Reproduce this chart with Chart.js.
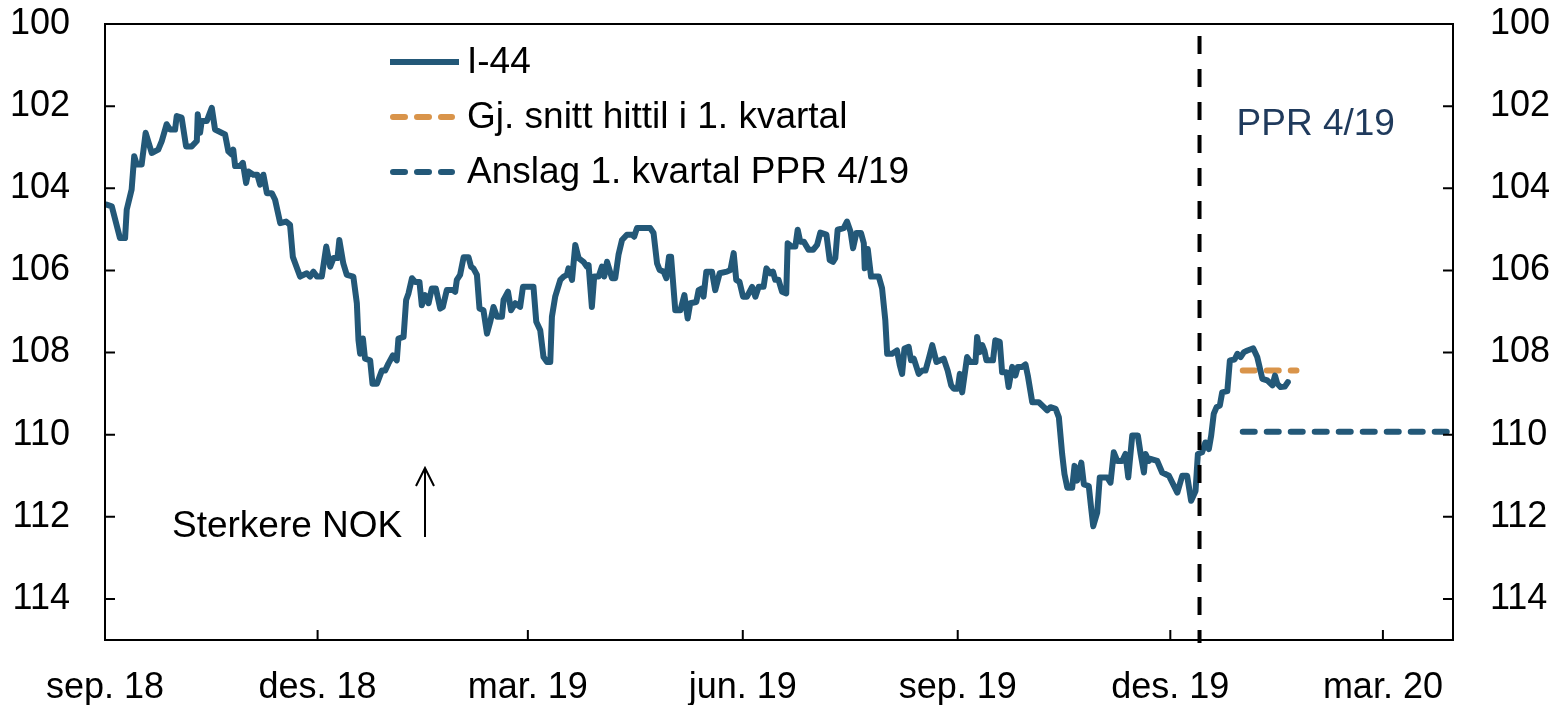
<!DOCTYPE html>
<html><head><meta charset="utf-8">
<script src="https://cdn.jsdelivr.net/npm/chart.js@4"></script>
<style>html,body{margin:0;padding:0;background:#fff;}#wrap{width:1559px;height:705px;position:relative;}</style>
</head><body><div id="wrap"><canvas id="c" width="1559" height="705"></canvas></div>
<script>
// x values are days since 1 Sep 2018
const xTickDays = [0, 91, 181, 273, 365, 456, 547];
const xTickLabels = ['sep. 18', 'des. 18', 'mar. 19', 'jun. 19', 'sep. 19', 'des. 19', 'mar. 20'];
const yTicks = [100, 102, 104, 106, 108, 110, 112, 114];
const seriesNames = ['I-44', 'Gj. snitt hittil i 1. kvartal', 'Anslag 1. kvartal PPR 4/19'];
const i44 = [[0.7,104.40],[2.9,104.44],[6.4,105.21],[8.6,105.21],[9.3,104.52],[11.4,104.03],[12.5,103.22],[13.6,103.42],[15.7,103.42],[17.4,102.65],[20.0,103.14],[22.8,103.06],[24.3,102.85],[26.4,102.44],[27.8,102.57],[30.0,102.57],[30.7,102.24],[32.8,102.28],[34.7,102.98],[37.1,102.98],[39.3,102.85],[39.7,102.20],[40.7,102.65],[41.4,102.36],[43.6,102.36],[45.7,102.04],[47.1,102.57],[51.4,102.69],[52.8,103.10],[54.3,103.18],[54.9,103.06],[55.7,103.46],[57.8,103.46],[59.0,103.38],[60.4,103.87],[61.4,103.59],[63.5,103.67],[65.2,103.67],[66.4,103.91],[67.8,103.67],[69.3,104.12],[71.4,104.12],[72.8,104.28],[75.0,104.85],[77.5,104.81],[79.2,104.89],[80.4,105.67],[83.5,106.15],[86.4,106.07],[87.8,106.15],[89.2,106.03],[90.7,106.15],[92.8,106.15],[94.7,105.42],[96.4,105.91],[97.8,105.70],[99.5,105.70],[100.3,105.26],[102.0,105.83],[103.5,106.11],[106.3,106.15],[107.8,106.80],[108.5,107.70],[109.2,108.03],[110.4,107.66],[111.3,108.15],[113.5,108.19],[114.5,108.76],[116.4,108.76],[118.5,108.44],[119.9,108.44],[121.3,108.27],[123.2,108.07],[124.9,108.19],[125.6,107.66],[127.8,107.62],[128.9,106.72],[129.9,106.56],[131.4,106.19],[132.8,106.28],[134.6,106.28],[135.6,106.85],[137.0,106.60],[138.5,106.80],[139.9,106.44],[141.6,106.44],[143.5,106.93],[144.6,106.89],[146.3,106.48],[148.9,106.48],[149.9,106.52],[150.6,106.23],[152.0,106.11],[153.5,105.68],[155.6,105.68],[156.7,105.91],[157.7,105.95],[159.2,106.11],[160.3,106.93],[162.0,106.97],[163.5,107.54],[164.9,107.25],[166.3,106.89],[167.8,107.13],[169.9,107.13],[170.6,106.72],[172.5,106.52],[173.8,106.97],[175.6,106.80],[177.7,106.89],[178.9,106.40],[181.3,106.40],[183.4,106.40],[184.6,107.25],[186.3,107.46],[187.7,108.11],[189.2,108.23],[190.6,108.23],[191.3,107.13],[192.7,106.64],[194.9,106.23],[196.3,106.15],[197.7,106.11],[198.4,105.95],[199.9,106.23],[201.3,105.38],[202.7,105.70],[204.8,105.79],[206.3,105.91],[207.0,105.87],[208.4,106.89],[209.4,106.15],[211.3,106.15],[212.7,105.91],[213.7,106.15],[214.9,105.79],[217.0,106.19],[218.4,106.19],[219.8,105.62],[221.3,105.26],[223.4,105.13],[225.6,105.13],[226.5,105.18],[227.7,104.97],[233.4,104.97],[234.8,105.09],[236.3,105.83],[237.4,105.99],[239.1,106.03],[240.3,106.19],[241.4,105.67],[242.3,105.67],[244.1,106.97],[246.3,106.97],[248.0,106.60],[249.4,107.17],[250.5,106.80],[253.1,106.77],[254.1,106.48],[255.5,106.44],[256.2,106.64],[257.4,106.03],[259.8,106.03],[261.2,106.48],[263.1,106.07],[266.2,106.03],[267.7,105.99],[269.1,105.58],[270.2,106.23],[271.6,106.28],[273.1,106.64],[274.8,106.64],[277.0,106.40],[278.4,106.64],[279.8,106.40],[281.9,106.40],[283.1,105.95],[284.8,106.07],[285.9,106.03],[286.9,106.23],[288.3,106.23],[289.8,106.52],[291.6,106.56],[292.2,105.34],[294.0,105.42],[295.5,105.42],[296.5,105.01],[297.6,105.30],[299.1,105.30],[301.2,105.50],[303.1,105.50],[304.8,105.38],[306.2,105.08],[308.8,105.13],[310.2,105.75],[311.6,105.79],[312.6,105.70],[313.6,105.01],[316.2,104.97],[317.6,104.81],[319.1,105.05],[320.2,105.46],[321.6,105.09],[323.6,105.09],[324.8,105.34],[325.2,105.95],[326.5,105.48],[327.9,106.15],[331.2,106.15],[332.6,106.43],[334.0,107.21],[334.8,108.03],[336.9,108.03],[339.0,107.95],[340.2,108.31],[341.2,108.52],[342.2,107.90],[344.0,107.86],[345.0,108.19],[346.2,108.15],[348.3,108.52],[349.8,108.44],[351.2,108.44],[352.6,108.15],[354.1,107.82],[355.9,108.23],[359.0,108.15],[360.7,108.44],[362.2,108.80],[363.3,108.88],[365.0,108.88],[365.9,108.52],[366.9,108.97],[369.0,108.11],[370.4,108.23],[372.6,108.23],[373.3,107.62],[374.4,107.99],[375.5,107.82],[376.4,107.95],[377.3,108.19],[380.1,108.19],[381.1,107.70],[383.0,107.74],[384.0,108.48],[385.9,108.48],[386.8,108.84],[388.3,108.35],[389.7,108.56],[390.7,108.35],[392.6,108.35],[394.0,108.29],[395.0,108.56],[396.9,109.21],[399.7,109.21],[401.9,109.33],[403.3,109.41],[404.7,109.33],[406.9,109.37],[408.3,109.58],[409.7,110.47],[410.7,110.96],[411.9,111.29],[414.0,111.29],[415.0,110.76],[416.1,111.12],[417.9,110.68],[419.0,111.21],[421.1,111.25],[422.1,111.78],[423.0,112.23],[424.7,111.90],[425.8,111.04],[429.0,111.04],[430.4,111.17],[431.8,110.43],[433.3,110.64],[435.4,110.64],[436.8,110.47],[438.0,111.04],[439.7,110.02],[442.1,110.02],[443.3,110.47],[444.7,110.92],[445.4,110.47],[446.8,110.64],[447.5,110.59],[450.4,110.64],[452.5,110.92],[455.4,111.00],[459.0,111.41],[461.1,111.00],[463.2,111.00],[464.9,111.61],[466.8,111.37],[467.8,110.47],[469.6,110.43],[471.0,110.19],[472.5,110.35],[473.5,110.02],[474.6,109.49],[475.8,109.33],[477.2,109.29],[478.2,108.97],[480.4,108.94],[481.5,108.19],[483.5,108.17],[484.7,108.03],[486.1,108.11],[487.5,107.99],[489.0,107.95],[491.5,107.90],[493.2,108.11],[495.4,108.64],[497.5,108.68],[499.7,108.80],[500.8,108.56],[501.8,108.76],[503.2,108.84],[505.0,108.83],[506.3,108.72]];
const avgQ1 = [[487, 108.44], [510, 108.44]];
const forecastQ1 = [[487, 109.93], [577, 109.93]];
const pprDay = 468.5;
const pprLabel = 'PPR 4/19';
const noteLabel = 'Sterkere NOK';

const BLUE = '#235878', ORANGE = '#D9944A', NAVY = '#1F3A5C';
const FONT = '"Liberation Sans", Arial, sans-serif';
const toXY = a => a.map(([x, y]) => ({x, y}));

const overlay = {
  id: 'overlay',
  afterDatasetsDraw(chart) {
    const {ctx, chartArea: ca, scales} = chart;
    const xs = scales.x, yl = scales.y, yr = scales.y2;
    ctx.save();
    const px = xs.getPixelForValue(pprDay);
    ctx.strokeStyle = '#000'; ctx.lineWidth = 4; ctx.setLineDash([18, 15]);
    ctx.beginPath(); ctx.moveTo(px, ca.top + 12); ctx.lineTo(px, ca.bottom + 3); ctx.stroke();
    ctx.setLineDash([]);
    ctx.lineWidth = 2; ctx.strokeStyle = '#000';
    ctx.strokeRect(ca.left, ca.top, ca.right - ca.left, ca.bottom - ca.top);
    ctx.beginPath();
    xs.ticks.forEach(t => { const x = xs.getPixelForValue(t.value); ctx.moveTo(x, ca.bottom); ctx.lineTo(x, ca.bottom - 10); });
    yl.ticks.forEach(t => { const y = yl.getPixelForValue(t.value); ctx.moveTo(ca.left, y); ctx.lineTo(ca.left + 10, y); });
    yr.ticks.forEach(t => { const y = yr.getPixelForValue(t.value); ctx.moveTo(ca.right, y); ctx.lineTo(ca.right - 10, y); });
    ctx.stroke();
    ctx.font = '37px ' + FONT; ctx.fillStyle = NAVY; ctx.textBaseline = 'alphabetic'; ctx.textAlign = 'left';
    ctx.fillText(pprLabel, px + 37, 135);
    ctx.fillStyle = '#000';
    ctx.fillText(noteLabel, 172, 537);
    ctx.lineWidth = 2;
    ctx.beginPath(); ctx.moveTo(425, 537); ctx.lineTo(425, 468);
    ctx.moveTo(416, 486); ctx.lineTo(425, 468); ctx.lineTo(434, 486); ctx.stroke();
    const rows = [
      {label: seriesNames[0], color: BLUE, dash: []},
      {label: seriesNames[1], color: ORANGE, dash: [12, 12]},
      {label: seriesNames[2], color: BLUE, dash: [12, 12]}
    ];
    rows.forEach((r, i) => {
      const y = 62 + i * 55;
      ctx.strokeStyle = r.color; ctx.lineWidth = 6; ctx.setLineDash(r.dash);
      ctx.lineCap = r.dash.length ? 'round' : 'butt';
      ctx.beginPath(); ctx.moveTo(r.dash.length ? 393 : 390, y); ctx.lineTo(r.dash.length ? 452 : 459, y); ctx.stroke();
      ctx.setLineDash([]);
      ctx.fillStyle = '#000'; ctx.textBaseline = 'middle';
      ctx.fillText(r.label, 467, y + 1);
    });
    ctx.restore();
  }
};

const yCommon = {
  min: 100, max: 115, reverse: true,
  afterBuildTicks: s => { s.ticks = yTicks.map(v => ({value: v})); },
  grid: {display: false, drawTicks: false},
  border: {display: false},
  ticks: {font: {size: 36, family: FONT}, color: '#000', autoSkip: false}
};
const fitY = w => s => { s.width = w; s.paddingTop = 0; s.paddingBottom = 0; };

new Chart(document.getElementById('c'), {
  type: 'line',
  data: {
    datasets: [
      {label: seriesNames[0], data: toXY(i44), borderColor: BLUE, borderWidth: 6, pointRadius: 0, tension: 0, borderJoinStyle: 'round', borderCapStyle: 'round', yAxisID: 'y'},
      {label: seriesNames[1], data: toXY(avgQ1), borderColor: ORANGE, borderWidth: 6, borderDash: [12, 12], borderCapStyle: 'round', pointRadius: 0, yAxisID: 'y'},
      {label: seriesNames[2], data: toXY(forecastQ1), borderColor: BLUE, borderWidth: 6, borderDash: [12, 12], borderCapStyle: 'round', pointRadius: 0, yAxisID: 'y'}
    ]
  },
  options: {
    responsive: false, animation: false, devicePixelRatio: 1,
    layout: {padding: {top: 24, left: 0, right: 0, bottom: 0}},
    plugins: {legend: {display: false}, tooltip: {enabled: false}},
    scales: {
      x: {
        type: 'linear', min: 0, max: 577,
        afterBuildTicks: s => { s.ticks = xTickDays.map(v => ({value: v})); },
        afterFit: s => { s.height = 65; s.paddingLeft = 0; s.paddingRight = 0; },
        grid: {display: false, drawTicks: false},
        border: {display: false},
        ticks: {font: {size: 36, family: FONT}, color: '#000', padding: 26, maxRotation: 0, autoSkip: false,
          callback: v => xTickLabels[xTickDays.indexOf(v)]}
      },
      y: Object.assign({}, yCommon, {position: 'left', afterFit: fitY(105),
        ticks: Object.assign({}, yCommon.ticks, {padding: 35})}),
      y2: Object.assign({}, yCommon, {position: 'right', afterFit: fitY(106),
        ticks: Object.assign({}, yCommon.ticks, {padding: 37})})
    }
  },
  plugins: [overlay]
});
</script></body></html>
